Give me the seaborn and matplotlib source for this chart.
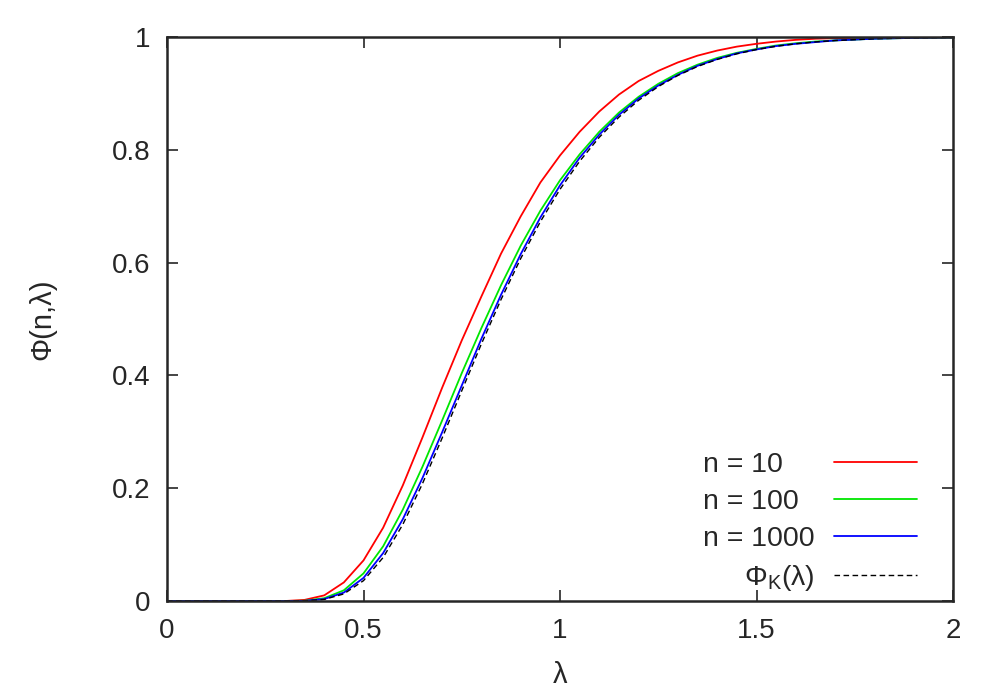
import numpy as np
import pandas as pd
import matplotlib
matplotlib.use("Agg")
import matplotlib.pyplot as plt
from matplotlib.ticker import FuncFormatter
import seaborn as sns

# lambda grid and curve values
lam = [0.0, 0.25, 0.30, 0.35, 0.40, 0.45, 0.50, 0.55, 0.60, 0.65, 0.70, 0.75, 0.80,
       0.85, 0.90, 0.95, 1.00, 1.05, 1.10, 1.15, 1.20, 1.25, 1.30, 1.35, 1.40,
       1.45, 1.50, 1.55, 1.60, 1.65, 1.70, 1.80, 1.90, 2.00]

phi_n10 = [0.0, 0.0, 0.0, 0.002, 0.010, 0.033, 0.072, 0.130, 0.205, 0.290, 0.378,
           0.462, 0.540, 0.616, 0.682, 0.742, 0.790, 0.832, 0.868, 0.898, 0.922,
           0.940, 0.955, 0.967, 0.976, 0.983, 0.988, 0.992, 0.995, 0.997, 0.998,
           0.999, 1.000, 1.000]

phi_n100 = [0.0, 0.0, 0.0, 0.0005, 0.005, 0.019, 0.049, 0.097, 0.162, 0.238, 0.320,
            0.404, 0.484, 0.560, 0.630, 0.692, 0.746, 0.792, 0.832, 0.866, 0.894,
            0.917, 0.936, 0.951, 0.963, 0.972, 0.979, 0.985, 0.989, 0.992, 0.994,
            0.997, 0.9985, 0.9993]

phi_n1000 = [0.0, 0.0, 0.0, 0.0003, 0.0035, 0.015, 0.041, 0.085, 0.145, 0.218, 0.299,
             0.382, 0.465, 0.543, 0.615, 0.680, 0.737, 0.786, 0.827, 0.862, 0.891,
             0.914, 0.933, 0.949, 0.961, 0.971, 0.978, 0.984, 0.988, 0.991, 0.994,
             0.997, 0.9985, 0.9993]

phi_k = [0.0, 0.0, 0.00001, 0.0003, 0.0028, 0.0126, 0.0361, 0.0772, 0.1357, 0.2080,
         0.2888, 0.3728, 0.4559, 0.5347, 0.6073, 0.6725, 0.7300, 0.7798, 0.8223,
         0.8580, 0.8878, 0.9121, 0.9319, 0.9478, 0.9603, 0.9702, 0.9778, 0.9836,
         0.9880, 0.9914, 0.9938, 0.9969, 0.9985, 0.9993]

# figure spaces pad the short labels so the n-labels line up on the left
labels = ["n = 10\u2007\u2007", "n = 100\u2007", "n = 1000", "Φ$_\\mathrm{K}$(λ)"]
colors = ["#ff0000", "#00e600", "#0000ff", "#000000"]

sns.set_theme(style="ticks")
plt.rcParams["font.family"] = ["Liberation Sans", "DejaVu Sans"]
plt.rcParams["mathtext.fontset"] = "custom"
plt.rcParams["mathtext.rm"] = "Liberation Sans"

fig = plt.figure(figsize=(10, 7), dpi=100)
ax = fig.add_axes([0.167, 0.1414, 0.786, 0.8057])

series = [phi_n10, phi_n100, phi_n1000, phi_k]
for vals, lab, col in zip(series, labels, colors):
    df = pd.DataFrame({"lam": lam, "phi": vals})
    if col == "#000000":
        sns.lineplot(data=df, x="lam", y="phi", ax=ax, color=col, lw=1.0,
                     label=lab, linestyle=(0, (4, 2.5)))
    else:
        sns.lineplot(data=df, x="lam", y="phi", ax=ax, color=col, lw=1.3, label=lab)

ax.set_xlim(0, 2)
ax.set_ylim(0, 1)
ax.set_xticks([0, 0.5, 1, 1.5, 2])
ax.set_yticks([0, 0.2, 0.4, 0.6, 0.8, 1])
fmt = FuncFormatter(lambda v, p: f"{v:g}")
ax.xaxis.set_major_formatter(fmt)
ax.yaxis.set_major_formatter(fmt)
ax.tick_params(direction="in", length=8, width=1.2, labelsize=20, pad=12,
               top=True, right=True)
for s in ax.spines.values():
    s.set_linewidth(1.8)
    s.set_visible(True)

ax.set_xlabel("λ", fontsize=21, va="center")
ax.set_ylabel("Φ(n,λ)", fontsize=21, va="center")
ax.xaxis.set_label_coords(0.5, -0.132)
ax.yaxis.set_label_coords(-0.159, 0.5)

leg = ax.legend(loc="lower right", bbox_to_anchor=(0.954, 0.015), frameon=False,
                fontsize=20.5, markerfirst=False, handlelength=2.9,
                handletextpad=0.7, labelspacing=0.38, borderpad=0, borderaxespad=0)

fig.savefig("out.png", dpi=100)
